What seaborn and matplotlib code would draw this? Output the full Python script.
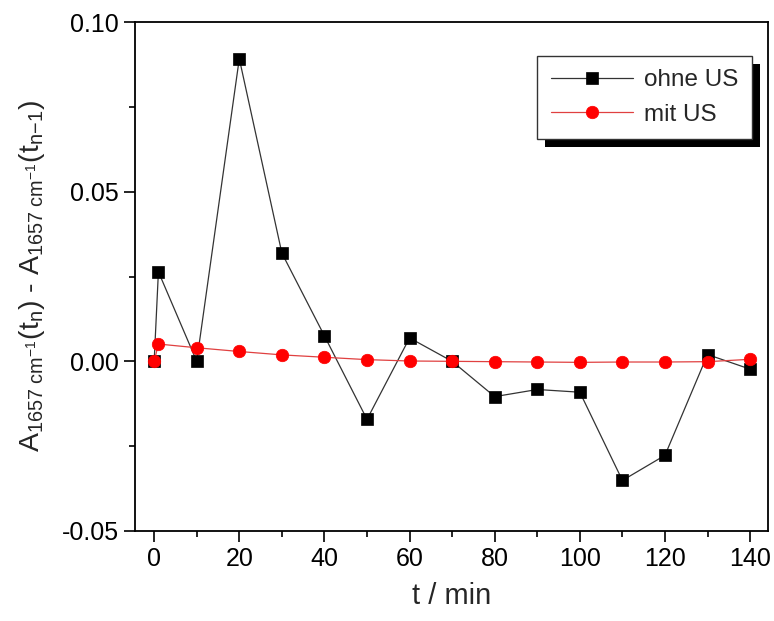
import matplotlib
matplotlib.use("Agg")
import matplotlib.pyplot as plt
import seaborn as sns
import pandas as pd
from matplotlib.ticker import MultipleLocator, FormatStrFormatter
from matplotlib.patches import Rectangle

t = [0, 1, 10, 20, 30, 40, 50, 60, 70, 80, 90, 100, 110, 120, 130, 140]
ohne_us = [0.0, 0.0264, 0.0, 0.0892, 0.0319, 0.0075, -0.0171, 0.0069, 0.0, -0.0104,
           -0.0083, -0.0091, -0.0351, -0.0277, 0.0020, -0.0023]
mit_us = [0.0, 0.0051, 0.0040, 0.0029, 0.0019, 0.0012, 0.0005, 0.0001, 0.0, -0.0001,
          -0.0002, -0.0003, -0.0002, -0.0002, -0.0001, 0.0006]
series_names = ["ohne US", "mit US"]

sns.set_style("ticks")
plt.rcParams["font.family"] = ["Liberation Sans", "DejaVu Sans"]
plt.rcParams["mathtext.fontset"] = "custom"
plt.rcParams["mathtext.rm"] = "Liberation Sans"
plt.rcParams["mathtext.it"] = "Liberation Sans"
plt.rcParams["mathtext.bf"] = "Liberation Sans:bold"

df = pd.concat([
    pd.DataFrame({"t": t, "val": ohne_us, "series": series_names[0]}),
    pd.DataFrame({"t": t, "val": mit_us, "series": series_names[1]}),
])

fig = plt.figure(figsize=(7.74, 6.21), dpi=100)
ax = fig.add_axes([135 / 774, 90 / 621, 633 / 774, 509 / 621])

styles = {
    "ohne US": dict(color="black", lc="#333333", marker="s", ms=8.5, lw=0.9),
    "mit US": dict(color="#ff0000", lc="#e04040", marker="o", ms=9.0, lw=0.9),
}
for name in series_names:
    st = styles[name]
    sub = df[df["series"] == name]
    sns.lineplot(data=sub, x="t", y="val", ax=ax, color=st["lc"], lw=st["lw"],
                 marker=st["marker"], markersize=st["ms"], markerfacecolor=st["color"],
                 markeredgecolor=st["color"], markeredgewidth=0.5, label=name,
                 estimator=None, sort=False)

ax.set_xlim(-4.5, 144.2)
ax.set_ylim(-0.05, 0.10)
ax.xaxis.set_major_locator(MultipleLocator(20))
ax.xaxis.set_minor_locator(MultipleLocator(10))
ax.yaxis.set_major_locator(MultipleLocator(0.05))
ax.yaxis.set_minor_locator(MultipleLocator(0.025))
ax.yaxis.set_major_formatter(FormatStrFormatter("%.2f"))
ax.tick_params(which="major", direction="out", length=8, width=1.2, labelsize=18, colors="black")
ax.tick_params(which="minor", direction="out", length=4.5, width=1.2, colors="black",
               bottom=True, left=True)
for s in ax.spines.values():
    s.set_linewidth(1.3)
    s.set_color("black")
ax.set_xlabel("t / min", fontsize=21, labelpad=8)
ax.set_ylabel(r"$\mathregular{A_{1657\ cm^{{-}1}}(t_n)}$ - $\mathregular{A_{1657\ cm^{{-}1}}(t_{n{-}1})}$",
              fontsize=20.5, labelpad=11)

leg = ax.legend(loc="upper right", bbox_to_anchor=(0.975, 0.933), borderaxespad=0,
                fontsize=17.5, frameon=True, fancybox=False, edgecolor="#333333",
                framealpha=1, handlelength=3.4, borderpad=0.55, labelspacing=0.5,
                handletextpad=0.45)
leg.get_frame().set_linewidth(1.0)
leg.set_zorder(10)

fig.canvas.draw()
bb = leg.get_window_extent().transformed(fig.transFigure.inverted())
dx, dy = 8 / 774, 8 / 621
shadow = Rectangle((bb.x0 + dx, bb.y0 - dy), bb.width, bb.height, transform=fig.transFigure,
                   facecolor="black", edgecolor="none", zorder=5)
ax.add_artist(shadow)

fig.savefig("out.png", dpi=100)
